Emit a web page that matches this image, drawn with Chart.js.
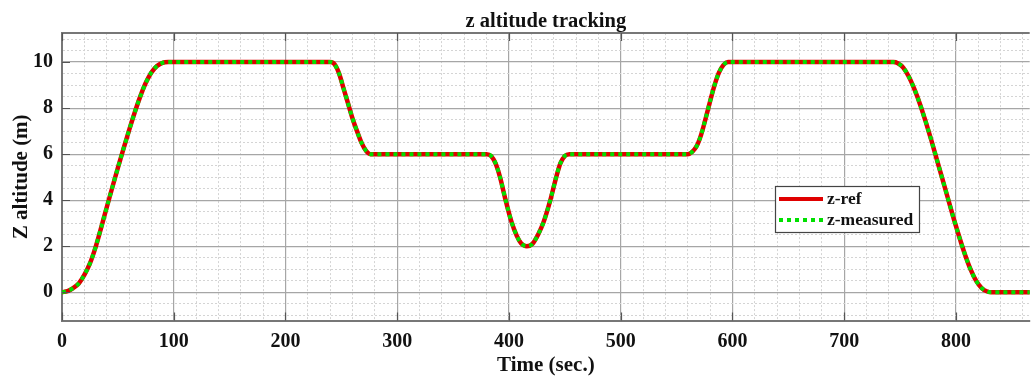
<!DOCTYPE html>
<html>
<head>
<meta charset="utf-8">
<script src="https://cdn.jsdelivr.net/npm/chart.js@4"></script>
<style>
  html, body { margin: 0; padding: 0; background: #fff; }
  #wrap { width: 1032px; height: 378px; position: relative; }
</style>
</head>
<body>
<div id="wrap"><canvas id="chart"></canvas></div>
<script>
// values
const timeSec = [0, 5, 10, 15, 20, 25, 30, 35, 40, 45, 50, 55, 60, 65, 70, 75, 80, 85, 90, 95,
  240, 244, 248, 252, 256, 260, 264, 268, 272, 276,
  380, 384, 388, 392, 397, 402, 407, 411, 416, 421, 426, 431, 437, 442, 446, 450, 454,
  560, 564, 568, 572, 576, 580, 584, 588, 592, 596,
  744, 748, 753, 758, 763, 768, 773, 778, 783, 788, 793, 798, 803, 808, 813, 818, 823, 828, 832, 870];
const zRef = [0, 0.05, 0.18, 0.38, 0.75, 1.25, 1.95, 2.8, 3.68, 4.55, 5.4, 6.23, 7.03, 7.8, 8.5, 9.1, 9.55, 9.83, 9.97, 10,
  10, 9.9, 9.5, 8.85, 8.2, 7.55, 7.0, 6.5, 6.15, 6.0,
  6, 5.92, 5.6, 5.0, 4.0, 3.1, 2.45, 2.12, 2.0, 2.1, 2.5, 3.05, 4.0, 4.95, 5.6, 5.92, 6,
  6, 6.1, 6.35, 6.85, 7.55, 8.3, 9.0, 9.55, 9.88, 10,
  10, 9.95, 9.75, 9.35, 8.8, 8.15, 7.4, 6.6, 5.75, 4.9, 4.05, 3.2, 2.4, 1.65, 1.0, 0.5, 0.18, 0.03, 0, 0];
const zMeasured = [0, 0.05, 0.18, 0.38, 0.75, 1.25, 1.95, 2.8, 3.68, 4.55, 5.4, 6.23, 7.03, 7.8, 8.5, 9.1, 9.55, 9.83, 9.97, 10,
  10, 9.9, 9.5, 8.85, 8.2, 7.55, 7.0, 6.5, 6.15, 6.0,
  6, 5.92, 5.6, 5.0, 4.0, 3.1, 2.45, 2.12, 2.0, 2.1, 2.5, 3.05, 4.0, 4.95, 5.6, 5.92, 6,
  6, 6.1, 6.35, 6.85, 7.55, 8.3, 9.0, 9.55, 9.88, 10,
  10, 9.95, 9.75, 9.35, 8.8, 8.15, 7.4, 6.6, 5.75, 4.9, 4.05, 3.2, 2.4, 1.65, 1.0, 0.5, 0.18, 0.03, 0, 0];

const xTickLabels = [0, 100, 200, 300, 400, 500, 600, 700, 800];
const yTickLabels = [0, 2, 4, 6, 8, 10];
const xMin = 0, xMax = 866, xMinorStep = 20;
const yMin = -1.23, yMax = 11.26, yMinorStep = 0.5;

const serif = '"Liberation Serif", "Times New Roman", serif';
Chart.defaults.font.family = serif;
Chart.defaults.font.weight = 'bold';
Chart.defaults.color = '#111';

const near = (v, list) => list.some(t => Math.abs(t - v) < 1e-6);

function minorTicks(min, max, step) {
  const out = [];
  for (let v = Math.ceil(min / step) * step; v <= max + 1e-9; v += step) out.push({ value: Math.round(v * 1000) / 1000 });
  return out;
}

// MATLAB style: short dark tick marks pointing into the plot, plus the legend box
const axesDecor = {
  id: 'axesDecor',
  afterDatasetsDraw(chart) {
    const { ctx, chartArea: a, scales: { x, y } } = chart;
    ctx.save();
    ctx.strokeStyle = '#555';
    ctx.lineWidth = 1.2;
    ctx.beginPath();
    xTickLabels.forEach(v => {
      const px = Math.round(x.getPixelForValue(v)) + 0.5;
      ctx.moveTo(px, a.bottom); ctx.lineTo(px, a.bottom - 8);
      ctx.moveTo(px, a.top); ctx.lineTo(px, a.top + 8);
    });
    yTickLabels.forEach(v => {
      const py = Math.round(y.getPixelForValue(v)) + 0.5;
      ctx.moveTo(a.left, py); ctx.lineTo(a.left + 8, py);
    });
    ctx.stroke();
    ctx.restore();
  },
  afterDraw(chart) {
    const ctx = chart.ctx;
    const left = 775, top = 186, w = 144, h = 46;
    ctx.save();
    ctx.fillStyle = '#fff';
    ctx.fillRect(left, top, w, h);
    ctx.strokeStyle = '#444';
    ctx.lineWidth = 1.2;
    ctx.strokeRect(left + 0.5, top + 0.5, w, h);
    const rows = [
      { label: 'z-ref', color: '#e00000', dash: [] },
      { label: 'z-measured', color: '#00e000', dash: [4, 4] }
    ];
    rows.forEach((r, i) => {
      const ly = top + 13 + i * 21;
      ctx.beginPath();
      ctx.setLineDash(r.dash);
      ctx.strokeStyle = r.color;
      ctx.lineWidth = 4;
      ctx.moveTo(left + 4, ly);
      ctx.lineTo(left + 48, ly);
      ctx.stroke();
      ctx.setLineDash([]);
      ctx.fillStyle = '#111';
      ctx.font = 'bold 17.5px ' + serif;
      ctx.textBaseline = 'middle';
      ctx.fillText(r.label, left + 52, ly);
    });
    ctx.restore();
  }
};

new Chart(document.getElementById('chart'), {
  type: 'line',
  data: {
    datasets: [
      {
        label: 'z-ref',
        data: timeSec.map((t, i) => ({ x: t, y: zRef[i] })),
        borderColor: '#e00000',
        borderWidth: 4.5,
        pointRadius: 0,
        cubicInterpolationMode: 'monotone',
        order: 2
      },
      {
        label: 'z-measured',
        data: timeSec.map((t, i) => ({ x: t, y: zMeasured[i] })),
        borderColor: '#00e000',
        borderWidth: 4,
        borderDash: [4, 4],
        pointRadius: 0,
        cubicInterpolationMode: 'monotone',
        order: 1
      }
    ]
  },
  options: {
    responsive: true,
    maintainAspectRatio: false,
    animation: false,
    layout: { padding: 0 },
    plugins: {
      legend: { display: false },
      tooltip: { enabled: false },
      title: {
        display: true,
        text: 'z altitude tracking',
        fullSize: false,
        color: '#111',
        font: { size: 20.5, weight: 'bold' },
        padding: { top: 9, bottom: -0.5 }
      }
    },
    scales: {
      x: {
        type: 'linear',
        min: xMin,
        max: xMax,
        afterBuildTicks: axis => { axis.ticks = minorTicks(xMin, xMax, xMinorStep); },
        afterFit: axis => { axis.height = 57.5; },
        ticks: {
          autoSkip: false,
          maxRotation: 0,
          padding: 9,
          font: { size: 20, weight: 'bold' },
          color: '#111',
          callback: v => near(v, xTickLabels) ? String(v) : ''
        },
        grid: {
          drawTicks: false,
          color: c => near(c.tick.value, xTickLabels) ? '#a6a6a6' : '#d4d4d4',
          lineWidth: c => near(c.tick.value, xTickLabels) ? 1.2 : 1
        },
        border: {
          color: '#777',
          width: 2,
          dash: c => (c.tick && near(c.tick.value, xTickLabels)) ? [] : [2, 2]
        },
        title: {
          display: true,
          text: 'Time (sec.)',
          color: '#111',
          font: { size: 21, weight: 'bold' },
          padding: { top: 0, bottom: 0 }
        }
      },
      y: {
        min: yMin,
        max: yMax,
        afterBuildTicks: axis => { axis.ticks = minorTicks(yMin, yMax, yMinorStep).concat([{ value: yMax }]); },
        afterFit: axis => { axis.width = 62; },
        ticks: {
          autoSkip: false,
          padding: 9,
          font: { size: 20, weight: 'bold' },
          color: '#111',
          callback: v => near(v, yTickLabels) ? String(v) : ''
        },
        grid: {
          drawTicks: false,
          color: c => c.tick.value === yMax ? '#777' : (near(c.tick.value, yTickLabels) ? '#a6a6a6' : '#d4d4d4'),
          lineWidth: c => c.tick.value === yMax ? 2 : (near(c.tick.value, yTickLabels) ? 1.2 : 1)
        },
        border: {
          color: '#777',
          width: 2,
          dash: c => (c.tick && (near(c.tick.value, yTickLabels) || c.tick.value === yMax)) ? [] : [2, 2]
        },
        title: {
          display: true,
          text: 'Z altitude (m)',
          color: '#111',
          font: { size: 21, weight: 'bold' },
          padding: { top: 9, bottom: 2 }
        }
      }
    }
  },
  plugins: [axesDecor]
});
</script>
</body>
</html>
